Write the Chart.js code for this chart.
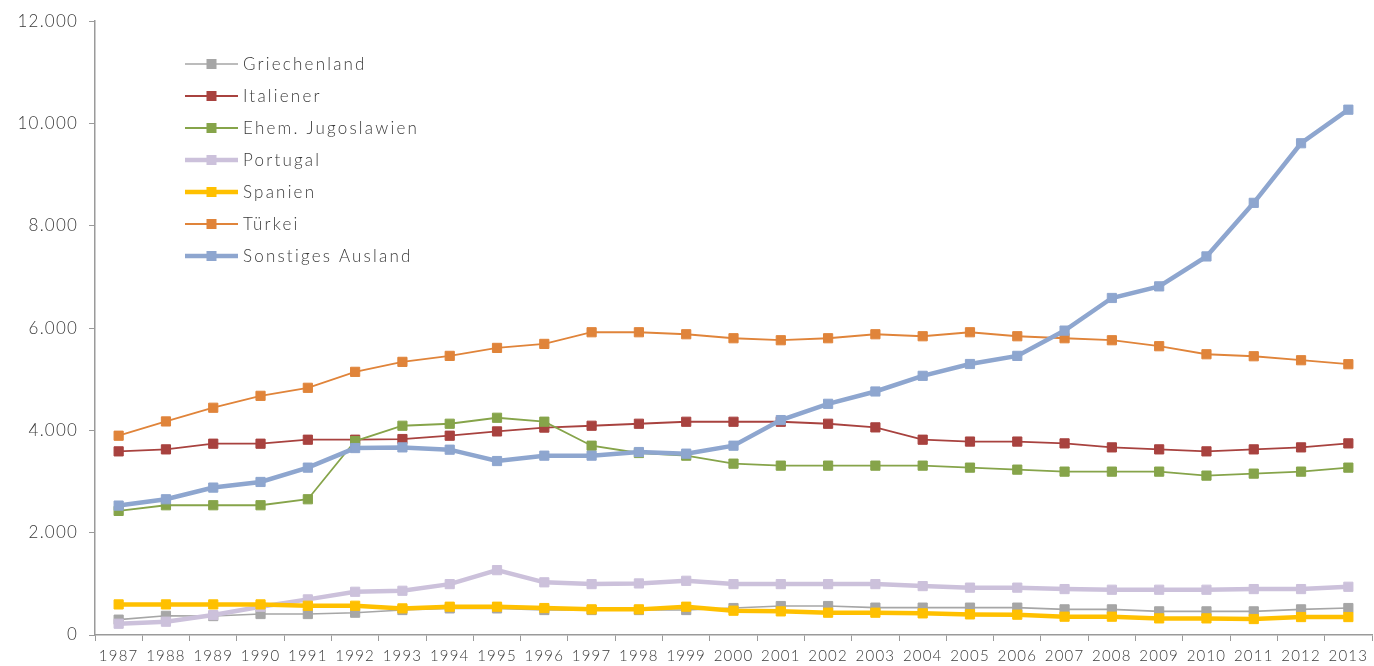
<!DOCTYPE html>
<html>
<head>
<meta charset="utf-8">
<script src="https://cdn.jsdelivr.net/npm/chart.js@4/dist/chart.umd.min.js"></script>
<style>
  html, body { margin: 0; padding: 0; background: #fff; }
  #wrap { width: 1374px; height: 666px; }
</style>
</head>
<body>
<div id="wrap"><canvas id="c" width="1374" height="666"></canvas></div>
<script>
// Jahre
const years = ['1987','1988','1989','1990','1991','1992','1993','1994','1995','1996','1997','1998','1999',
  '2000','2001','2002','2003','2004','2005','2006','2007','2008','2009','2010','2011','2012','2013'];

// Werte je Herkunftsgruppe
const griechenland = [300,375,370,410,410,436,488,520,520,488,488,488,488,527,566,566,535,535,535,535,501,501,462,462,462,501,527];
const italiener = [3590,3629,3740,3740,3818,3818,3831,3896,3980,4055,4091,4130,4169,4169,4169,4130,4059,3818,3782,3782,3746,3668,3629,3590,3629,3668,3746];
const jugoslawien = [2426,2537,2537,2537,2654,3792,4091,4130,4247,4170,3701,3558,3506,3350,3311,3311,3311,3311,3272,3233,3194,3194,3194,3116,3155,3194,3272];
const portugal = [220,260,390,553,696,845,865,995,1268,1030,995,1008,1060,995,995,995,995,956,926,926,898,885,885,885,898,898,943];
const spanien = [598,598,598,598,572,572,520,553,553,527,501,501,553,475,462,436,436,423,403,397,358,358,325,325,312,351,351];
const tuerkei = [3896,4175,4443,4676,4833,5145,5340,5457,5613,5691,5919,5919,5880,5802,5763,5802,5880,5841,5919,5841,5802,5763,5646,5489,5450,5372,5294];
const sonstige = [2530,2654,2882,2992,3272,3655,3668,3623,3401,3506,3506,3577,3545,3701,4202,4520,4761,5067,5298,5457,5951,6589,6816,7401,8449,9614,10270];

// Achsenbeschriftung links
const yTicks = [0, 2000, 4000, 6000, 8000, 10000, 12000];

const seriesNames = ['Griechenland','Italiener','Ehem. Jugoslawien','Portugal','Spanien','Türkei','Sonstiges Ausland'];
const seriesData = [griechenland, italiener, jugoslawien, portugal, spanien, tuerkei, sonstige];
const seriesColors = ['#a6a6a6','#a8423f','#86a44a','#ccc1db','#ffc000','#e0843a','#8ea6cf'];
const seriesWidths = [1.6, 1.8, 1.8, 4.5, 4.5, 1.8, 4.5];

const FONT = "Lato, 'Open Sans', sans-serif";
const TEXT = '#3a3a3a';
const AXIS = '#9a9a9a';

const fmt = v => String(v).replace(/\B(?=(\d{3})+(?!\d))/g, '.');

const datasets = seriesNames.map((name, i) => ({
  label: name,
  data: seriesData[i],
  borderColor: seriesColors[i],
  backgroundColor: seriesColors[i],
  borderWidth: seriesWidths[i],
  pointStyle: 'rect',
  pointRadius: 6.5,
  pointBorderWidth: 1,
  pointBorderColor: seriesColors[i],
  pointBackgroundColor: seriesColors[i],
  tension: 0,
  order: seriesNames.length - i
}));

// letter spacing for all canvas text
const spacing = {
  id: 'spacing',
  beforeUpdate(chart) { chart.ctx.letterSpacing = '1.2px'; },
  beforeDraw(chart) { chart.ctx.letterSpacing = '1.2px'; }
};

// legend drawn inside the plot area, top left
const innerLegend = {
  id: 'innerLegend',
  afterDraw(chart) {
    const ctx = chart.ctx;
    ctx.save();
    ctx.letterSpacing = '2.2px';
    const x0 = 185, x1 = 238, tx = 243, y0 = 64, dy = 32;
    chart.data.datasets.forEach((ds, i) => {
      const y = y0 + i * dy;
      ctx.strokeStyle = ds.borderColor;
      ctx.lineWidth = ds.borderWidth;
      ctx.beginPath();
      ctx.moveTo(x0, y);
      ctx.lineTo(x1, y);
      ctx.stroke();
      ctx.fillStyle = ds.borderColor;
      ctx.fillRect((x0 + x1) / 2 - 5, y - 5, 10, 10);
      ctx.fillStyle = TEXT;
      ctx.font = "300 17px " + FONT;
      ctx.textAlign = 'left';
      ctx.textBaseline = 'middle';
      ctx.fillText(ds.label, tx, y + 1);
    });
    ctx.restore();
  }
};

new Chart(document.getElementById('c'), {
  type: 'line',
  data: { labels: years, datasets },
  plugins: [spacing, innerLegend],
  options: {
    responsive: false,
    animation: false,
    devicePixelRatio: 1,
    layout: { autoPadding: false, padding: { top: 20, right: 2, left: 0, bottom: 0 } },
    plugins: { legend: { display: false }, tooltip: { enabled: false } },
    scales: {
      x: {
        type: 'category',
        offset: true,
        grid: { display: true, offset: true, drawOnChartArea: false, drawTicks: true, tickLength: 6, color: AXIS, lineWidth: 1 },
        border: { display: true, color: AXIS, width: 1.5 },
        ticks: { color: TEXT, font: { family: FONT, size: 15, weight: '300' }, padding: 6, maxRotation: 0, autoSkip: false },
        afterFit(s) { s.height = 31; s.paddingLeft = 0; s.paddingRight = 0; }
      },
      y: {
        min: 0,
        max: 12000,
        afterBuildTicks(s) { s.ticks = yTicks.map(v => ({ value: v })); },
        grid: { display: true, drawOnChartArea: false, drawTicks: true, tickLength: 6, color: AXIS, lineWidth: 1 },
        border: { display: true, color: AXIS, width: 1.5 },
        ticks: { color: TEXT, font: { family: FONT, size: 17, weight: '300' }, padding: 11, callback: v => fmt(v) },
        afterFit(s) { s.width = 95; }
      }
    }
  }
});
</script>
</body>
</html>
